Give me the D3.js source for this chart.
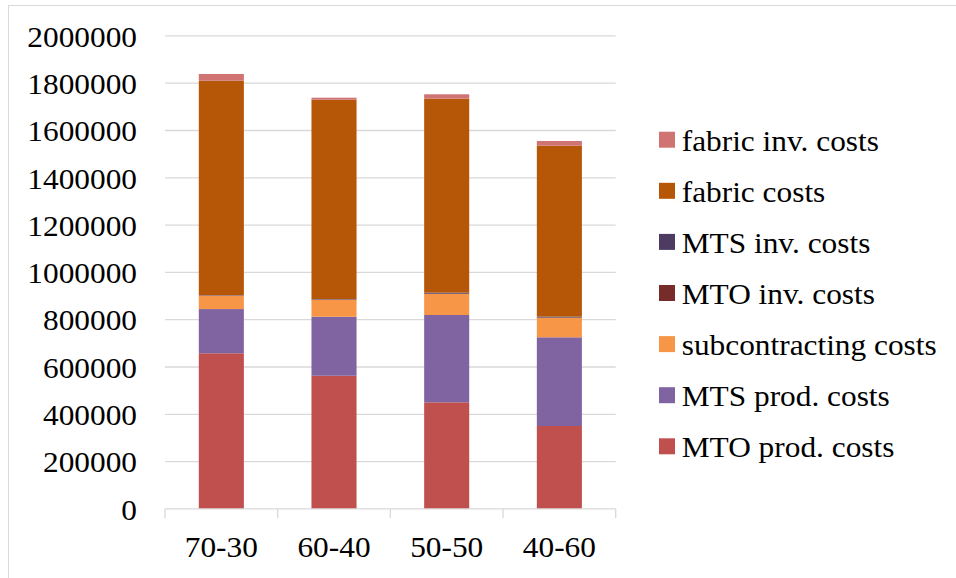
<!DOCTYPE html>
<html>
<head>
<meta charset="utf-8">
<script src="https://cdn.jsdelivr.net/npm/d3@7"></script>
<style>
  html, body { margin: 0; padding: 0; background: #fff; }
  svg { display: block; }
  text { font-family: "Liberation Serif", "Times New Roman", serif; fill: #000; }
</style>
</head>
<body>
<svg id="chart" width="956" height="578"></svg>
<script>
// Cost breakdown per MTO-MTS split
const categories = ["70-30", "60-40", "50-50", "40-60"];
const seriesNames = [
  "MTO prod. costs",
  "MTS prod. costs",
  "subcontracting costs",
  "MTO inv. costs",
  "MTS inv. costs",
  "fabric costs",
  "fabric inv. costs"
];
const mtoProd      = [658000, 563000, 450700, 350500];
const mtsProd      = [187000, 249500, 369200, 375100];
const subcontract  = [56500, 72000, 89000, 82500];
const mtoInv       = [1000, 1000, 1000, 1000];
const mtsInv       = [1500, 2000, 4500, 4000];
const fabric       = [906500, 842700, 820000, 722600];
const fabricInv    = [28500, 8500, 18700, 19900];
const yTicks = [0, 200000, 400000, 600000, 800000, 1000000, 1200000, 1400000, 1600000, 1800000, 2000000];

const seriesValues = [mtoProd, mtsProd, subcontract, mtoInv, mtsInv, fabric, fabricInv];
const colors = ["#c0504d", "#8064a2", "#f79646", "#772c2a", "#4d3b62", "#b65708", "#cf7473"];

const rows = categories.map((c, i) => {
  const r = { cat: c };
  seriesNames.forEach((s, k) => { r[s] = seriesValues[k][i]; });
  return r;
});
const stacked = d3.stack().keys(seriesNames)(rows);

const svg = d3.select("#chart");
const TX = 1.045;         // horizontal glyph stretch
const FS = 30;

// outer frame
svg.append("rect")
  .attr("x", 8.5).attr("y", 5.5)
  .attr("width", 1000).attr("height", 700)
  .attr("fill", "none").attr("stroke", "#d9d9d9").attr("stroke-width", 1);

const x = d3.scaleBand().domain(categories).range([165, 615.7])
  .paddingInner(0.6).paddingOuter(0.3);
const y = d3.scaleLinear().domain([0, 2000000]).range([508.9, 35.9]);

// gridlines
svg.append("g")
  .selectAll("line")
  .data(yTicks.filter(t => t > 0))
  .join("line")
  .attr("x1", 165).attr("x2", 615.7)
  .attr("y1", d => y(d)).attr("y2", d => y(d))
  .attr("stroke", "#d9d9d9").attr("stroke-width", 1.3);

// y labels
const yAxis = svg.append("g").attr("transform", "translate(137,0)")
  .call(d3.axisLeft(y).tickValues(yTicks).tickSize(0).tickPadding(0).tickFormat(d3.format("d")));
yAxis.select(".domain").remove();
yAxis.selectAll("text")
  .attr("x", 0).attr("dy", "0.34em")
  .attr("transform", `scale(${TX},1)`)
  .style("font-size", FS + "px")
  .style("font-family", '"Liberation Serif", serif')
  .attr("fill", "#000");

// bars
svg.append("g")
  .selectAll("g")
  .data(stacked)
  .join("g")
  .attr("fill", (d, i) => colors[i])
  .selectAll("rect")
  .data(d => d)
  .join("rect")
  .attr("x", d => x(d.data.cat))
  .attr("width", x.bandwidth())
  .attr("y", d => y(d[1]))
  .attr("height", d => y(d[0]) - y(d[1]));

// x axis
const step = x.step();
const xAxis = svg.append("g").attr("transform", "translate(0,508.9)");
xAxis.append("line").attr("x1", 165).attr("x2", 615.7)
  .attr("stroke", "#d9d9d9").attr("stroke-width", 1.3);
xAxis.selectAll("line.tick")
  .data(d3.range(categories.length + 1))
  .join("line").attr("class", "tick")
  .attr("x1", i => 165 + i * step).attr("x2", i => 165 + i * step)
  .attr("y1", 0).attr("y2", 9)
  .attr("stroke", "#d9d9d9").attr("stroke-width", 1.3);
xAxis.selectAll("text")
  .data(categories)
  .join("text")
  .attr("transform", d => `translate(${x(d) + x.bandwidth() / 2},48) scale(${TX},1)`)
  .attr("text-anchor", "middle")
  .style("font-size", FS + "px")
  .text(d => d);

// legend (reverse of stacking order)
const legendItems = seriesNames.map((s, i) => ({ name: s, color: colors[i] })).reverse();
const lg = svg.append("g").attr("transform", "translate(659,131.7)");
const item = lg.selectAll("g").data(legendItems).join("g")
  .attr("transform", (d, i) => `translate(0,${i * 51.1})`);
item.append("rect").attr("width", 16).attr("height", 16).attr("fill", d => d.color);
item.append("text")
  .attr("transform", `translate(22.7,19) scale(${TX},1)`)
  .style("font-size", FS + "px")
  .text(d => d.name);
</script>
</body>
</html>
